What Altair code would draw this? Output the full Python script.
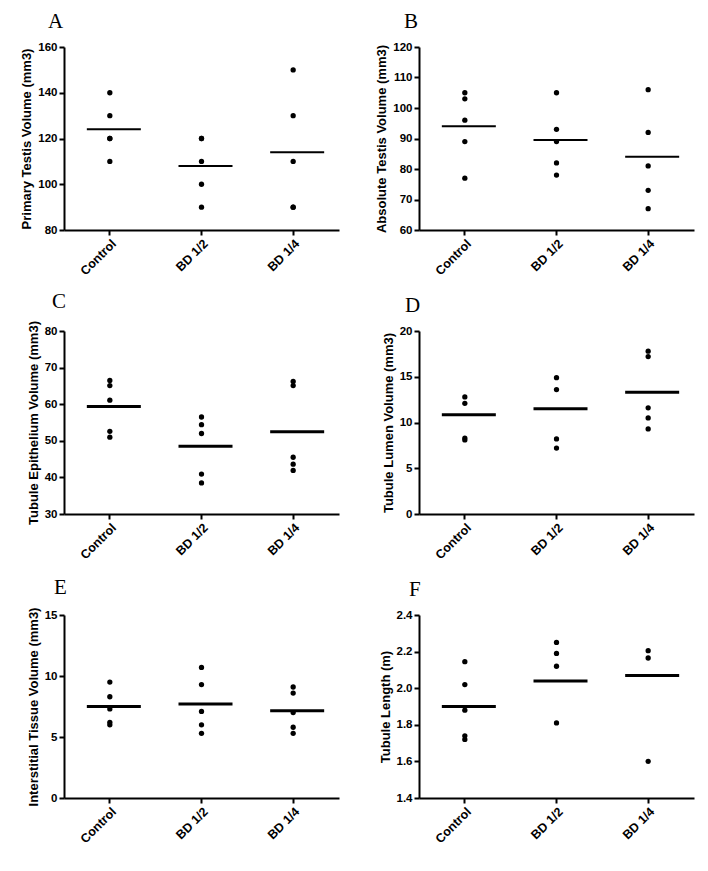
import altair as alt
import pandas as pd

groups = ["Control", "BD 1/2", "BD 1/4"]

# Panel A: Primary Testis Volume (mm3)
a_control = [140, 130, 120, 120, 110]
a_bd12 = [120, 120, 110, 100, 90]
a_bd14 = [150, 130, 110, 90, 90]
a_means = [124, 108, 114]

# Panel B: Absolute Testis Volume (mm3)
b_control = [105, 103, 96, 89, 77]
b_bd12 = [105, 93, 89, 82, 78]
b_bd14 = [106, 92, 81, 73, 67]
b_means = [94, 89.5, 84]

# Panel C: Tubule Epithelium Volume (mm3)
c_control = [66.5, 65.1, 61.1, 52.6, 51.0]
c_bd12 = [56.5, 54.4, 52.0, 40.9, 38.5]
c_bd14 = [66.2, 65.1, 45.5, 43.6, 41.9]
c_means = [59.4, 48.5, 52.5]

# Panel D: Tubule Lumen Volume (mm3)
d_control = [12.8, 12.1, 8.3, 8.1]
d_bd12 = [14.9, 13.6, 8.2, 7.2]
d_bd14 = [17.8, 17.2, 11.6, 10.5, 9.3]
d_means = [10.85, 11.5, 13.3]

# Panel E: Interstitial Tissue Volume (mm3)
e_control = [9.5, 8.3, 7.3, 6.2, 6.0]
e_bd12 = [10.7, 9.3, 7.1, 6.0, 5.3]
e_bd14 = [9.1, 8.6, 7.0, 5.8, 5.3]
e_means = [7.5, 7.7, 7.15]

# Panel F: Tubule Length (m)
f_control = [2.145, 2.02, 1.88, 1.74, 1.72]
f_bd12 = [2.25, 2.19, 2.12, 1.81]
f_bd14 = [2.205, 2.165, 1.60]
f_means = [1.90, 2.04, 2.07]

PW, PH = 275, 183


def panel(letter, series, means, ytitle, domain, ticks, fmt, thick, dx):
    rows = []
    for g, vals in zip(groups, series):
        for v in vals:
            rows.append({"group": g, "value": v})
    pts = pd.DataFrame(rows)
    mdf = pd.DataFrame({"group": groups, "value": means})
    x = alt.X("group:N", sort=groups, title=None,
              scale=alt.Scale(paddingInner=0, paddingOuter=0),
              axis=alt.Axis(labelAngle=-45))
    y = alt.Y("value:Q", title=ytitle,
              scale=alt.Scale(domain=domain, nice=False, zero=False),
              axis=alt.Axis(values=ticks, format=fmt))
    dots = alt.Chart(pts).mark_circle(size=28, color="black", opacity=1).encode(x=x, y=y)
    line = alt.Chart(mdf).mark_tick(color="black", size=54, thickness=thick,
                                    xOffset=4, opacity=1).encode(x=x, y=y)
    return alt.layer(dots, line).properties(
        width=PW, height=PH,
        title=alt.TitleParams(text=letter, anchor="start", frame="group",
                              font="Liberation Serif", fontSize=21,
                              fontWeight="normal", dx=dx, offset=9, color="black"),
    )


pA = panel("A", [a_control, a_bd12, a_bd14], a_means, "Primary Testis Volume (mm3)",
           [80, 160], [80, 100, 120, 140, 160], "d", 2, -16)
pB = panel("B", [b_control, b_bd12, b_bd14], b_means, "Absolute Testis Volume (mm3)",
           [60, 120], [60, 70, 80, 90, 100, 110, 120], "d", 2, -15)
pC = panel("C", [c_control, c_bd12, c_bd14], c_means, "Tubule Epithelium Volume (mm3)",
           [30, 80], [30, 40, 50, 60, 70, 80], "d", 3, -12)
pD = panel("D", [d_control, d_bd12, d_bd14], d_means, "Tubule Lumen Volume (mm3)",
           [0, 20], [0, 5, 10, 15, 20], "d", 3, -14)
pE = panel("E", [e_control, e_bd12, e_bd14], e_means, "Interstitial Tissue Volume (mm3)",
           [0, 15], [0, 5, 10, 15], "d", 3, -10)
pF = panel("F", [f_control, f_bd12, f_bd14], f_means, "Tubule Length (m)",
           [1.4, 2.4], [1.4, 1.6, 1.8, 2.0, 2.2, 2.4], ".1f", 3, -10)

chart = alt.concat(
    pA, pB, pC, pD, pE, pF, columns=2,
    spacing={"row": 101, "column": 80}, bounds="flush",
).properties(
    padding={"left": 12, "top": 3, "right": 5, "bottom": 5},
).configure(background="white").configure_view(stroke=None).configure_axis(
    domainColor="black", domainWidth=2, tickColor="black", tickWidth=2, tickSize=5,
    labelFont="Liberation Sans", labelFontWeight="bold",
    labelColor="black", titleFont="Liberation Sans", titleFontSize=13,
    titleFontWeight="bold", titleColor="black", grid=False,
).configure_axisX(labelFontSize=12.5).configure_axisY(labelFontSize=11.5)

chart.save("out.html", embed_options={"renderer": "svg", "actions": False})
